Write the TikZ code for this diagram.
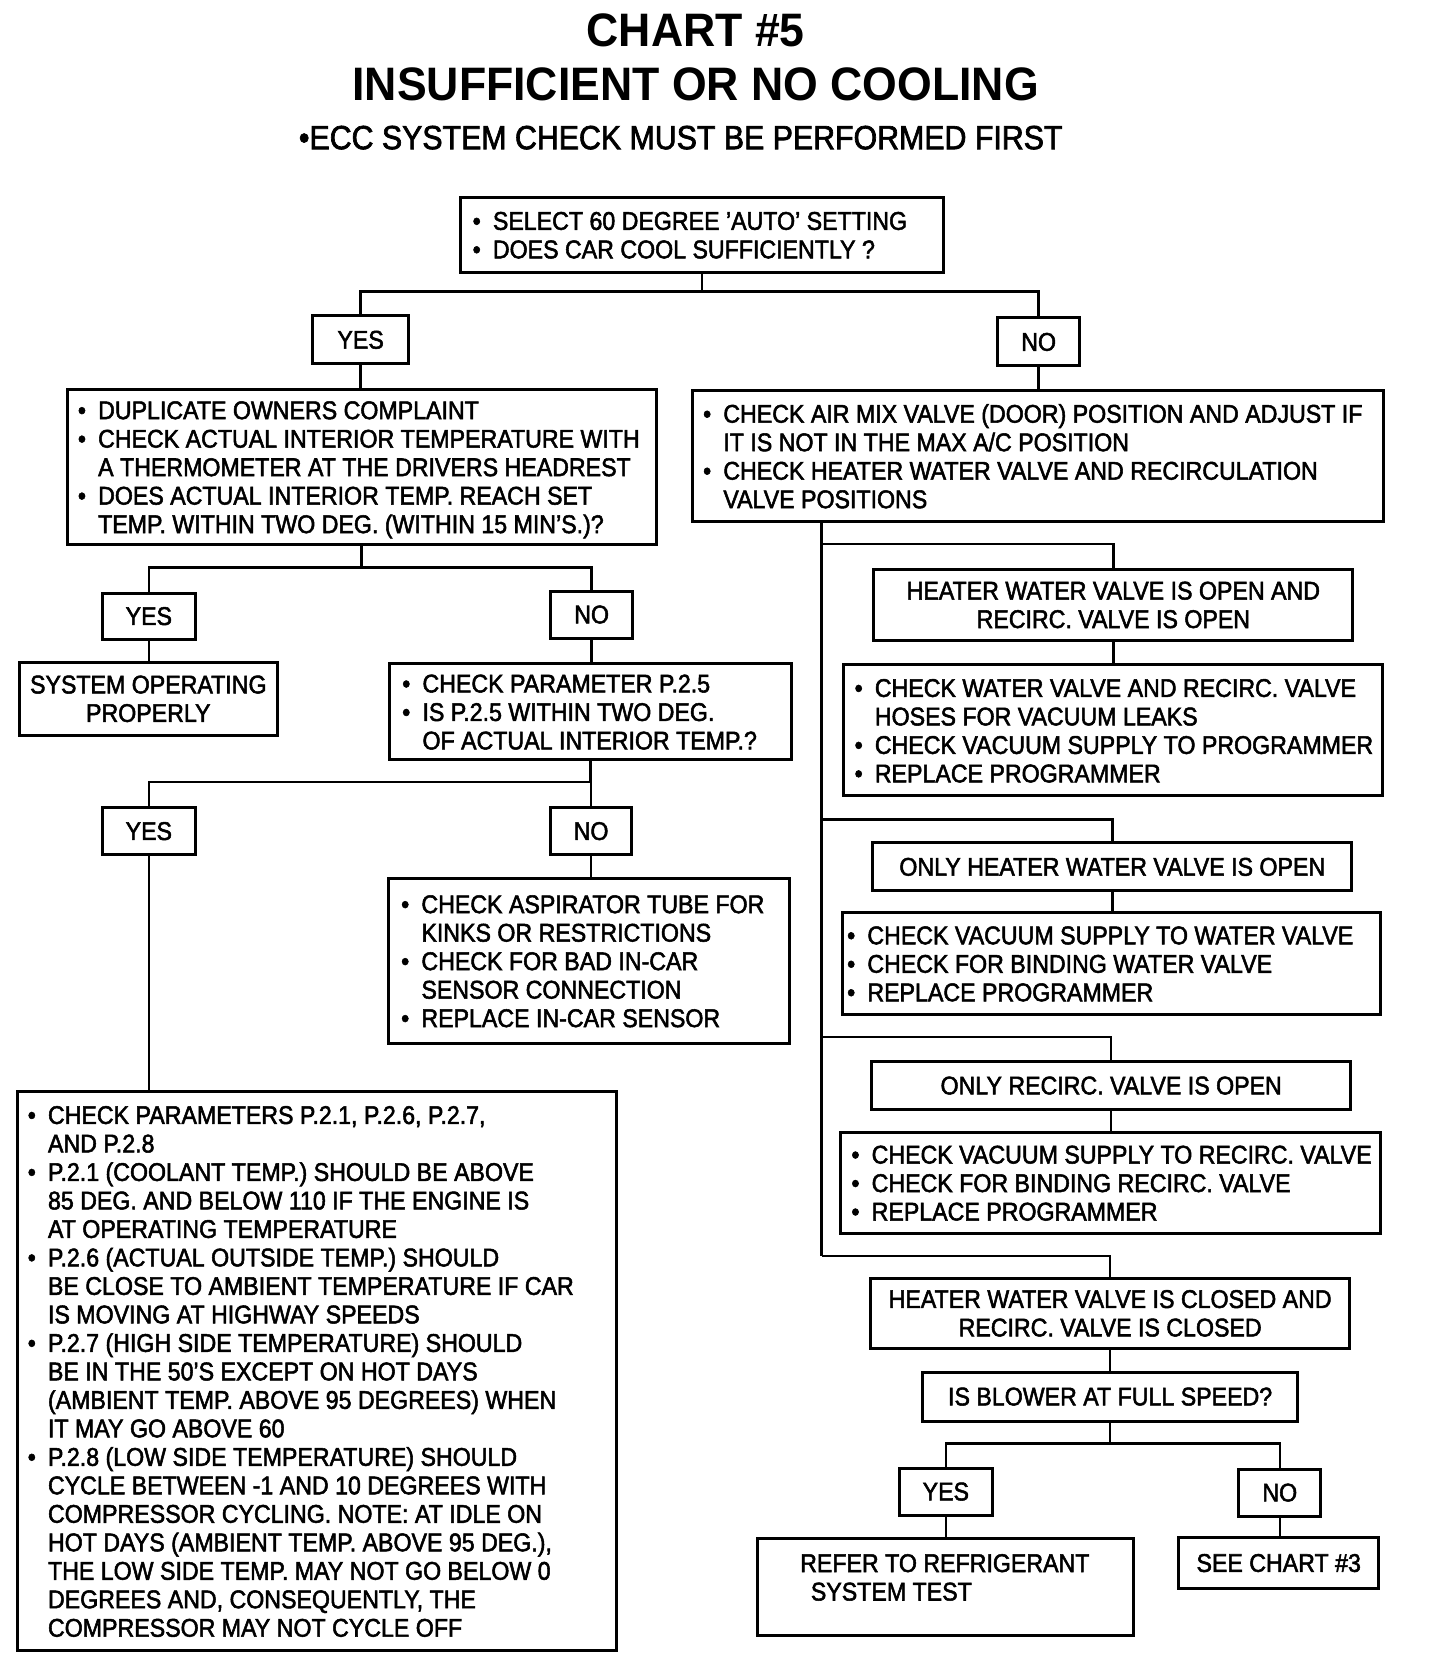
\documentclass[tikz,border=0pt]{standalone}
\usepackage{fontspec}
\setmainfont{Liberation Sans}[FakeStretch=0.905,FakeBold=2]
\newfontfamily\titlef{Liberation Sans}[FakeStretch=0.95]
\newcommand\bu{\makebox[10pt][l]{\hspace*{0.5pt}•}}
\newcommand\cn{\hspace*{10pt}}
\newcommand\lbox[3]{\makebox[#1][l]{\hspace*{#2}\begin{tabular}{@{}l@{}}\rule{0pt}{12.75pt}#3\end{tabular}}}
\newcommand\bodyf{\fontsize{12pt}{13.35pt}\selectfont}
\begin{document}
\begin{tikzpicture}[x=0.5pt,y=-0.5pt,
  bx/.style={draw, line width=1.4pt, inner sep=0pt, font=\bodyf},
  cbx/.style={bx, align=center},
  ln/.style={line width=1.2pt},
  ttl/.style={inner sep=0pt, font=\titlef\bfseries\fontsize{22pt}{24pt}\selectfont}]
\fill[white] (0,0) rectangle (1350,1569);
\useasboundingbox (0,0) rectangle (1350,1569);

% titles
\node[ttl] (t1) at (652,28) {CHART \#5};
\node[ttl] (t2) at (652,79) {INSUFFICIENT OR NO COOLING};
\node[inner sep=0pt, font=\fontsize{15.7pt}{17pt}\selectfont] (t3) at (638,129) {•ECC SYSTEM CHECK MUST BE PERFORMED FIRST};

% top box
\node[bx, minimum width=226pt, minimum height=35pt] (A) at (658,220)
  {\lbox{226pt}{5pt}{\bu SELECT 60 DEGREE 'AUTO' SETTING\\ \bu DOES CAR COOL SUFFICIENTLY ?}};
\node[cbx, minimum width=45pt, minimum height=22.5pt] (Y1) at (338,318.5) {YES};
\node[cbx, minimum width=38.5pt, minimum height=22.5pt] (N1) at (973.5,320.5) {NO};

\node[bx, minimum width=276pt, minimum height=72.5pt] (B) at (339,437.5)
  {\lbox{276pt}{4.5pt}{\bu DUPLICATE OWNERS COMPLAINT\\
   \bu CHECK ACTUAL INTERIOR TEMPERATURE WITH\\
   \cn A THERMOMETER AT THE DRIVERS HEADREST\\
   \bu DOES ACTUAL INTERIOR TEMP. REACH SET\\
   \cn TEMP. WITHIN TWO DEG. (WITHIN 15 MIN'S.)?}};
\node[bx, minimum width=324pt, minimum height=61.5pt] (C) at (973,427.5)
  {\lbox{324pt}{4.5pt}{\bu CHECK AIR MIX VALVE (DOOR) POSITION AND ADJUST IF\\
   \cn IT IS NOT IN THE MAX A/C POSITION\\
   \bu CHECK HEATER WATER VALVE AND RECIRCULATION\\
   \cn VALVE POSITIONS}};

% left branch
\node[cbx, minimum width=43.5pt, minimum height=21.5pt] (Y2) at (139.5,577.5) {YES};
\node[cbx, minimum width=38.5pt, minimum height=22pt] (N2) at (554.5,576) {NO};
\node[cbx, minimum width=121pt, minimum height=34pt] (S) at (139,655) {SYSTEM OPERATING\\PROPERLY};
\node[bx, minimum width=188.5pt, minimum height=45pt] (D) at (553.5,667)
  {\lbox{188.5pt}{5.5pt}{\bu CHECK PARAMETER P.2.5\\
   \bu IS P.2.5 WITHIN TWO DEG.\\
   \cn OF ACTUAL INTERIOR TEMP.?}};
\node[cbx, minimum width=43.5pt, minimum height=22pt] (Y3) at (139.5,779) {YES};
\node[cbx, minimum width=38pt, minimum height=22pt] (N3) at (554,779) {NO};
\node[bx, minimum width=188pt, minimum height=77.5pt] (E) at (552,900.5)
  {\lbox{188pt}{5.5pt}{\bu CHECK ASPIRATOR TUBE FOR\\
   \cn KINKS OR RESTRICTIONS\\
   \bu CHECK FOR BAD IN-CAR\\
   \cn SENSOR CONNECTION\\
   \bu REPLACE IN-CAR SENSOR}};
\node[bx, minimum width=281pt, minimum height=262pt] (F) at (297,1285)
  {\lbox{281pt}{4.5pt}{\bu CHECK PARAMETERS P.2.1, P.2.6, P.2.7,\\
   \cn AND P.2.8\\
   \bu P.2.1 (COOLANT TEMP.) SHOULD BE ABOVE\\
   \cn 85 DEG. AND BELOW 110 IF THE ENGINE IS\\
   \cn AT OPERATING TEMPERATURE\\
   \bu P.2.6 (ACTUAL OUTSIDE TEMP.) SHOULD\\
   \cn BE CLOSE TO AMBIENT TEMPERATURE IF CAR\\
   \cn IS MOVING AT HIGHWAY SPEEDS\\
   \bu P.2.7 (HIGH SIDE TEMPERATURE) SHOULD\\
   \cn BE IN THE 50'S EXCEPT ON HOT DAYS\\
   \cn (AMBIENT TEMP. ABOVE 95 DEGREES) WHEN\\
   \cn IT MAY GO ABOVE 60\\
   \bu P.2.8 (LOW SIDE TEMPERATURE) SHOULD\\
   \cn CYCLE BETWEEN -1 AND 10 DEGREES WITH\\
   \cn COMPRESSOR CYCLING. NOTE: AT IDLE ON\\
   \cn HOT DAYS (AMBIENT TEMP. ABOVE 95 DEG.),\\
   \cn THE LOW SIDE TEMP. MAY NOT GO BELOW 0\\
   \cn DEGREES AND, CONSEQUENTLY, THE\\
   \cn COMPRESSOR MAY NOT CYCLE OFF}};

% right branch
\node[cbx, minimum width=224.5pt, minimum height=33pt] (G) at (1043.5,567) {HEATER WATER VALVE IS OPEN AND\\RECIRC. VALVE IS OPEN};
\node[bx, minimum width=252.5pt, minimum height=61.5pt] (H) at (1043.5,684.5)
  {\lbox{252.5pt}{4.5pt}{\bu CHECK WATER VALVE AND RECIRC. VALVE\\
   \cn HOSES FOR VACUUM LEAKS\\
   \bu CHECK VACUUM SUPPLY TO PROGRAMMER\\
   \bu REPLACE PROGRAMMER}};
\node[cbx, minimum width=224.5pt, minimum height=22.5pt] (I) at (1042.5,812.5) {ONLY HEATER WATER VALVE IS OPEN};
\node[bx, minimum width=252pt, minimum height=48pt] (J) at (1042,903)
  {\lbox{252pt}{1.5pt}{\bu CHECK VACUUM SUPPLY TO WATER VALVE\\
   \bu CHECK FOR BINDING WATER VALVE\\
   \bu REPLACE PROGRAMMER}};
\node[cbx, minimum width=224.5pt, minimum height=22.5pt] (K) at (1041.5,1017.5) {ONLY RECIRC. VALVE IS OPEN};
\node[bx, minimum width=253pt, minimum height=47.5pt] (L) at (1041,1108.5)
  {\lbox{253pt}{4.5pt}{\bu CHECK VACUUM SUPPLY TO RECIRC. VALVE\\
   \bu CHECK FOR BINDING RECIRC. VALVE\\
   \bu REPLACE PROGRAMMER}};
\node[cbx, minimum width=224.5pt, minimum height=33pt] (M) at (1040.5,1231) {HEATER WATER VALVE IS CLOSED AND\\RECIRC. VALVE IS CLOSED};
\node[cbx, minimum width=175.5pt, minimum height=23pt] (N) at (1040.5,1309) {IS BLOWER AT FULL SPEED?};
\node[cbx, minimum width=43.5pt, minimum height=22pt] (Y4) at (886.5,1398) {YES};
\node[cbx, minimum width=38.5pt, minimum height=22pt] (N4) at (1199.5,1399) {NO};
\node[bx, minimum width=176pt, minimum height=45.5pt] (O) at (886,1487.5)
  {\lbox{176pt}{20pt}{REFER TO REFRIGERANT\\ \hspace*{5pt}SYSTEM TEST\\[9.5pt]}};
\node[cbx, minimum width=93.5pt, minimum height=24pt] (P) at (1198.5,1465) {SEE CHART \#3};

% connectors
\coordinate (j1) at (658,273);
\draw[ln] (A.south) -- (j1);
\draw[ln] (Y1.north) |- (j1) -| (N1.north);
\draw[ln] (Y1.south) -- (Y1.south |- B.north);
\draw[ln] (N1.south) -- (N1.south |- C.north);

\coordinate (j2) at (339,532);
\draw[ln] (B.south) -- (j2);
\draw[ln] (Y2.north) |- (j2) -| (N2.north);
\draw[ln] (Y2.south) -- (Y2.south |- S.north);
\draw[ln] (N2.south) -- (N2.south |- D.north);

\coordinate (j3) at (553.5,733);
\draw[ln] (D.south) -- (j3);
\draw[ln] (Y3.north) |- (j3) -| (N3.north);
\draw[ln] (N3.south) -- (N3.south |- E.north);
\draw[ln] (Y3.south) -- (Y3.south |- F.north);

\coordinate (t0) at (770,489);
\coordinate (t1b) at (770,510);
\coordinate (t2b) at (770,768);
\coordinate (t3b) at (770,972);
\coordinate (t4b) at (770,1177);
\draw[ln] (t0) -- (t4b);
\draw[ln] (t1b) -| (G.north);
\draw[ln] (t2b) -| (I.north);
\draw[ln] (t3b) -| (K.north);
\draw[ln] (t4b) -| (M.north);
\draw[ln] (G.south) -- (G.south |- H.north);
\draw[ln] (I.south) -- (I.south |- J.north);
\draw[ln] (K.south) -- (K.south |- L.north);
\draw[ln] (M.south) -- (M.south |- N.north);

\coordinate (j5) at (1040.5,1353);
\draw[ln] (N.south) -- (j5);
\draw[ln] (Y4.north) |- (j5) -| (N4.north);
\draw[ln] (Y4.south) -- (Y4.south |- O.north);
\draw[ln] (N4.south) -- (N4.south |- P.north);
\end{tikzpicture}
\end{document}
